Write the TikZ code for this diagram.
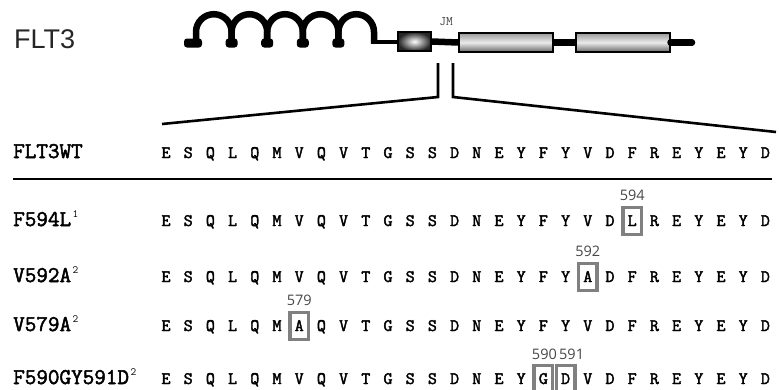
\documentclass[tikz,border=0pt]{standalone}
\usepackage{fontspec}
\setmainfont{Liberation Sans}
\newfontfamily\numfont{Open Sans}
\newfontfamily\seqfont{Latin Modern Mono}[FakeBold=2.2]
\usetikzlibrary{calc}
\newcommand\suplabel[1]{\hspace{1.5pt}\raisebox{9pt}{\ttfamily\mdseries\fontsize{11}{11}\selectfont #1}}
\begin{document}
\begin{tikzpicture}[x=1pt,y=-1pt,
  seqletter/.style={anchor=base,inner sep=0pt,font=\seqfont\bfseries\fontsize{17.5}{17.5}\selectfont},
  rowlabel/.style={anchor=base west,inner sep=0pt,font=\seqfont\bfseries\fontsize{22.5}{22.5}\selectfont},
  mutbox/.style={draw=black!50,line width=3.4pt,minimum width=18.5pt,minimum height=27pt,inner sep=0pt},
  posnum/.style={inner sep=0pt,text=black!72,font=\numfont\fontsize{14.5}{14.5}\selectfont},
  coil/.style={line width=6.5pt},
  backbone/.style={line width=6.5pt},
  smallbox/.style={draw,line width=2pt,minimum width=33pt,minimum height=19pt,inner sep=0pt,
    inner color=white,outer color=black!85},
  kinbox/.style={draw,line width=2pt,minimum width=94pt,minimum height=19pt,inner sep=0pt,
    top color=black!40,bottom color=black!60,middle color=white!92!black},
  zoomline/.style={line width=2.6pt,line join=miter}
]
\useasboundingbox (0,0) rectangle (779,389);

% ---- protein scheme ----
\node[anchor=base west,inner sep=0pt,text=black!85,font=\fontsize{27}{27}\selectfont] (title) at (14,48) {FLT3};

% extracellular coil
\fill[rounded corners=3pt] (184,38.5) rectangle (202,47.5);
\foreach \i in {0,...,4}{
  \draw[coil] (196+35.6*\i,43.5) -- (196+35.6*\i,32)
    arc[start angle=180,end angle=360,radius=17.8] -- (231.6+35.6*\i,43.5);
}
\foreach \i in {1,...,4}{
  \fill[rounded corners=3pt] (190+35.6*\i,38.5) rectangle (202+35.6*\i,47.5);
}
\coordinate (coilend) at (370.5,41.5);

% transmembrane and kinase domains
\node[smallbox] (tm) at (414.5,41.5) {};
\node[kinbox] (kd1) at (506,42.5) {};
\node[kinbox] (kd2) at (622.5,42.5) {};
\coordinate (cterm) at (692,42.5);
\draw[line width=4pt] (coilend) -- (tm.west);
\draw[backbone] (tm.east) -- (kd1.west);
\draw[backbone] (kd1.east) -- (kd2.west);
\draw[backbone,line cap=round] (kd2.east) -- (cterm);
\node[anchor=base,inner sep=0pt,text=black!75,font=\ttfamily\fontsize{13}{13}\selectfont] (jm) at (446,25) {JM};

% zoom onto the juxtamembrane region
\coordinate (zlt) at (438,63);
\coordinate (zlb) at (438,97);
\coordinate (zle) at (162,124);
\coordinate (zrt) at (453,63);
\coordinate (zrb) at (453,97);
\coordinate (zre) at (776,132);
\draw[zoomline] (zlt) -- (zlb) -- (zle);
\draw[zoomline] (zrt) -- (zrb) -- (zre);

% ---- sequence alignment ----
\node[rowlabel] (lab-wt) at (13,158) {FLT3WT};
\node[rowlabel] (lab-f594) at (13,226) {F594L\suplabel{1}};
\node[rowlabel] (lab-v592) at (13,282) {V592A\suplabel{2}};
\node[rowlabel] (lab-v579) at (13,331) {V579A\suplabel{2}};
\node[rowlabel] (lab-f590) at (13,384) {F590GY591D\suplabel{2}};

\coordinate (sepl) at (13,179);
\coordinate (sepr) at (772,179);
\draw[line width=1.8pt] (sepl) -- (sepr);

\foreach \row/\yb/\letters in {
  wt/158/{E,S,Q,L,Q,M,V,Q,V,T,G,S,S,D,N,E,Y,F,Y,V,D,F,R,E,Y,E,Y,D},
  f594/226/{E,S,Q,L,Q,M,V,Q,V,T,G,S,S,D,N,E,Y,F,Y,V,D,L,R,E,Y,E,Y,D},
  v592/282/{E,S,Q,L,Q,M,V,Q,V,T,G,S,S,D,N,E,Y,F,Y,A,D,F,R,E,Y,E,Y,D},
  v579/331/{E,S,Q,L,Q,M,A,Q,V,T,G,S,S,D,N,E,Y,F,Y,V,D,F,R,E,Y,E,Y,D},
  f590/384/{E,S,Q,L,Q,M,V,Q,V,T,G,S,S,D,N,E,Y,G,D,V,D,F,R,E,Y,E,Y,D}}{
  \foreach \l [count=\i from 0] in \letters {
    \node[seqletter] (\row-\i) at (166+22.2*\i,\yb) {\l};
  }
}

% mutated residues
\node[mutbox] (box594) at ($(f594-21.base)+(0,-5)$) {};
\node[mutbox] (box592) at ($(v592-19.base)+(0,-5)$) {};
\node[mutbox] (box579) at ($(v579-6.base)+(0,-5)$) {};
\node[mutbox] (box590) at ($(f590-17.base)+(0,-5)$) {};
\node[mutbox] (box591) at ($(f590-18.base)+(0,-5)$) {};

\node[posnum] (n594) at ($(box594.north)+(0,-10.5)$) {594};
\node[posnum] (n592) at ($(box592.north)+(0,-10.5)$) {592};
\node[posnum] (n579) at ($(box579.north)+(0,-10.5)$) {579};
\node[posnum] (n590) at ($(box590.north)+(1,-9.5)$) {590};
\node[posnum] (n591) at ($(box591.north)+(6,-9.5)$) {591};
\end{tikzpicture}
\end{document}
